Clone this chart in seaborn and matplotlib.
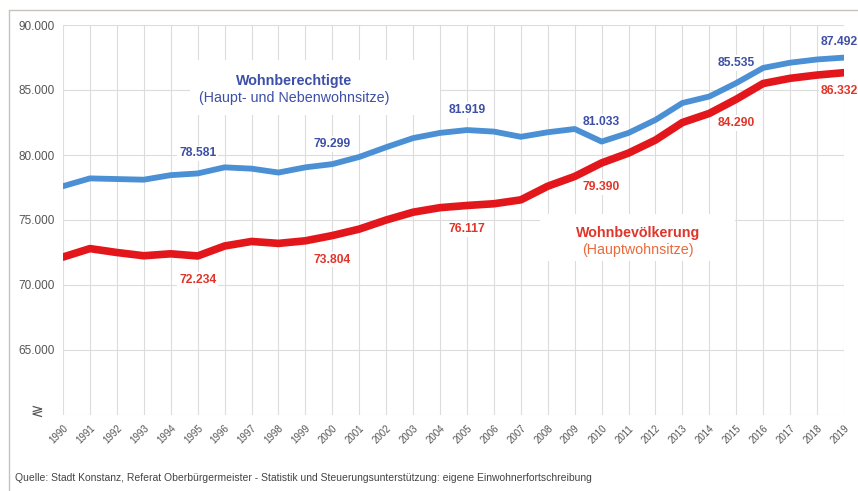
#!/usr/bin/env python3
"""
Einwohnerentwicklung Konstanz 1990-2019
"""

import pandas as pd
import matplotlib
matplotlib.use("Agg")
import matplotlib.pyplot as plt
from matplotlib.patches import Rectangle
import seaborn as sns

# ------------------------------------------------------------
# Data
# ------------------------------------------------------------
years = list(range(1990, 2020))

wohnberechtigte = [77600, 78200, 78150, 78100, 78450, 78581, 79050, 78950, 78650, 79050,
                   79299, 79850, 80600, 81300, 81700, 81919, 81800, 81400, 81750, 82000,
                   81033, 81700, 82700, 84000, 84500, 85535, 86700, 87100, 87350, 87492]

wohnbevoelkerung = [72150, 72800, 72500, 72250, 72400, 72234, 73000, 73350, 73200, 73400,
                    73804, 74300, 75000, 75600, 75950, 76117, 76250, 76550, 77600, 78350,
                    79390, 80150, 81150, 82500, 83200, 84290, 85500, 85900, 86150, 86332]

label_years = [1995, 2000, 2005, 2010, 2015, 2019]

y_ticks = [60000, 65000, 70000, 75000, 80000, 85000, 90000]
y_ticklabels = ["", "65.000", "70.000", "75.000", "80.000", "85.000", "90.000"]

source = ("Quelle: Stadt Konstanz, Referat Oberbürgermeister - Statistik und "
          "Steuerungsunterstützung: eigene Einwohnerfortschreibung")

df = pd.DataFrame({"year": years,
                   "berechtigt": wohnberechtigte,
                   "bevoelkerung": wohnbevoelkerung})

# ------------------------------------------------------------
# Style
# ------------------------------------------------------------
sns.set_style("white")
plt.rcParams["font.family"] = ["Liberation Sans", "DejaVu Sans"]

BLUE_LINE = "#4b8fd4"
BLUE_TEXT = "#3d4fa6"
RED_LINE = "#e3161c"
RED_TEXT = "#e0352a"
RED_SUB = "#ea6a3c"
GRID = "#dcdcdc"

fig = plt.figure(figsize=(8.58, 4.91), dpi=100)
ax = fig.add_axes([63 / 858, 1 - 415 / 491, 781 / 858, 390 / 491])

# outer frame (top + left)
fig.add_artist(plt.Line2D([9 / 858, 9 / 858], [0, 1 - 10 / 491],
                          transform=fig.transFigure, color="#c9c2ba", lw=1))
fig.add_artist(plt.Line2D([9 / 858, 1], [1 - 10 / 491, 1 - 10 / 491],
                          transform=fig.transFigure, color="#c9c2ba", lw=1))

# ------------------------------------------------------------
# Lines
# ------------------------------------------------------------
sns.lineplot(data=df, x="year", y="berechtigt", ax=ax, color=BLUE_LINE,
             linewidth=4.2, zorder=3)
sns.lineplot(data=df, x="year", y="bevoelkerung", ax=ax, color=RED_LINE,
             linewidth=5.5, zorder=3)

ax.set_xlim(years[0], years[-1])
ax.set_ylim(y_ticks[0], y_ticks[-1])
ax.set_xticks(years)
ax.set_xticklabels([str(y) for y in years], rotation=45, ha="right",
                   rotation_mode="anchor", fontsize=7, color="#555555")
ax.set_yticks(y_ticks)
ax.set_yticklabels(y_ticklabels, fontsize=8.5, color="#555555")
ax.tick_params(axis="both", length=0, pad=6)
ax.set_xlabel("")
ax.set_ylabel("")
ax.set_axisbelow(True)
ax.grid(True, color=GRID, lw=0.8)
for s in ax.spines.values():
    s.set_visible(False)

# axis break symbol
ax.text(-0.025, 0.01, "≷", transform=ax.transAxes, ha="right", va="center",
        fontsize=11, color="#555555", family="DejaVu Sans")

# ------------------------------------------------------------
# Value labels
# ------------------------------------------------------------
for yr in label_years:
    i = years.index(yr)
    last = yr == years[-1]
    ax.annotate(f"{wohnberechtigte[i]:,}".replace(",", "."),
                xy=(yr, wohnberechtigte[i]),
                xytext=(-23 if last else 0, 16 if last else 20),
                textcoords="offset pixels",
                ha="left" if last else "center", va="center",
                fontsize=8.7, fontweight="bold", color=BLUE_TEXT,
                annotation_clip=False, zorder=2.5,
                bbox=dict(boxstyle="square,pad=0.15", fc="white", ec="none"))
    ax.annotate(f"{wohnbevoelkerung[i]:,}".replace(",", "."),
                xy=(yr, wohnbevoelkerung[i]),
                xytext=(-23 if last else 0, -18 if last else -24),
                textcoords="offset pixels",
                ha="left" if last else "center", va="center",
                fontsize=8.7, fontweight="bold", color=RED_TEXT,
                annotation_clip=False, zorder=2.5,
                bbox=dict(boxstyle="square,pad=0.15", fc="white", ec="none"))

# ------------------------------------------------------------
# Series captions
# ------------------------------------------------------------
ax.add_patch(Rectangle((0.163, 0.77), 0.32, 0.14, transform=ax.transAxes,
                       fc="white", ec="none", zorder=1))
ax.text(0.296, 0.856, "Wohnberechtigte", transform=ax.transAxes, ha="center",
        va="center", fontsize=10.3, fontweight="bold", color=BLUE_TEXT, zorder=4)
ax.text(0.296, 0.812, "(Haupt- und Nebenwohnsitze)", transform=ax.transAxes,
        ha="center", va="center", fontsize=10.3, color=BLUE_TEXT, zorder=4)

ax.add_patch(Rectangle((0.611, 0.395), 0.25, 0.12, transform=ax.transAxes,
                       fc="white", ec="none", zorder=1))
ax.text(0.736, 0.467, "Wohnbevölkerung", transform=ax.transAxes, ha="center",
        va="center", fontsize=10.3, fontweight="bold", color=RED_TEXT, zorder=4)
ax.text(0.736, 0.423, "(Hauptwohnsitze)", transform=ax.transAxes, ha="center",
        va="center", fontsize=10.3, color=RED_SUB, zorder=4)

# source
fig.text(15 / 858, 1 - 478 / 491, source, ha="left", va="center",
         fontsize=7.5, color="#444444")

fig.savefig("out.png", dpi=100)
